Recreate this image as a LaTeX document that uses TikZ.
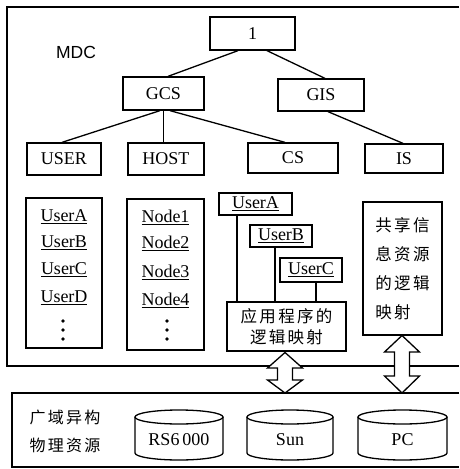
\documentclass[tikz,border=0pt]{standalone}
\usepackage{fontspec}
\setmainfont{Liberation Serif}
\setsansfont{Liberation Sans}
\newfontfamily\cjk[LetterSpace=14]{Noto Sans CJK SC}
\usetikzlibrary{calc}
\newcommand\dblarr[5]{%
  \filldraw[fill=white] (#1,#2) -- (#1+17.5,#3) -- (#1+7.5,#3) -- (#1+7.5,#4) -- (#1+17.5,#4) -- (#1,#5)
    -- (#1-17.5,#4) -- (#1-7.5,#4) -- (#1-7.5,#3) -- (#1-17.5,#3) -- cycle;}
\newcommand\cyl[4]{%
  \draw (#1-#2,417) -- (#1-#2,453) arc[start angle=180,end angle=360,x radius=#2pt,y radius=7pt] -- (#1+#2,417);
  \draw (#1,417) ellipse[x radius=#2pt,y radius=7pt];
  \node[lbl] (#3) at (#1,440) {#4};}
\begin{document}
\begin{tikzpicture}[x=1pt,y=-1pt,line width=1.3pt,
  lbl/.style={font=\fontsize{18}{20}\selectfont,inner sep=0pt},
  box/.style={draw,lbl},
  ch/.style={font=\cjk\fontsize{16.5}{22}\selectfont,inner sep=0pt},
  dotm/.style={fill,circle,inner sep=0pt,minimum size=3.6pt}]
\useasboundingbox (0,0) rectangle (459,469);
% frames
\draw (459,7) -- (7,7) -- (7,366) -- (459,366);
\draw (459,393) -- (12,393) -- (12,467) -- (459,467);
\node[lbl,font=\sffamily\fontsize{17.5}{20}\selectfont] (mdc) at (76,52) {MDC};
% tree
\node[box,minimum width=85pt,minimum height=33pt] (n1) at (252.5,33.5) {1};
\node[box,minimum width=81pt,minimum height=33pt] (gcs) at (163.5,93.5) {GCS};
\node[box,minimum width=86pt,minimum height=32pt] (gis) at (321,95) {GIS};
\node[box,minimum width=74pt,minimum height=32pt] (user) at (64,159) {USER};
\node[box,minimum width=76pt,minimum height=32pt] (host) at (166,159) {HOST};
\node[box,minimum width=90pt,minimum height=30pt] (cs) at (293,158) {CS};
\node[box,minimum width=78pt,minimum height=29pt] (is) at (404,158.5) {IS};
\draw ($(n1.south)+(-14.5,0)$) -- ($(gcs.north)+(4.5,0)$);
\draw ($(n1.south)+(14.5,0)$) -- ($(gis.north)+(4,0)$);
\draw ($(gcs.south)+(-3.5,0)$) -- ($(user.north)+(-2,0)$);
\draw (gcs.south) -- (gcs.south |- host.north);
\draw ($(gcs.south)+(6.5,0)$) -- ($(cs.north)+(-8,0)$);
\draw ($(gis.south)+(7,0)$) -- ($(is.north)+(-1,0)$);
% lists
\node[draw,minimum width=76pt,minimum height=150pt] (ulist) at (64,273) {};
\node[draw,minimum width=77pt,minimum height=151pt] (nlist) at (165.5,274.5) {};
\node[lbl] (u1) at (64,217) {\underline{UserA}};
\node[lbl] (u2) at (64,243) {\underline{UserB}};
\node[lbl] (u3) at (64,270) {\underline{UserC}};
\node[lbl] (u4) at (64,298) {\underline{UserD}};
\node[dotm] (ud1) at (63,321) {};
\node[dotm] (ud2) at (63,330) {};
\node[dotm] (ud3) at (63,339) {};
\node[lbl] (h1) at (165.5,217) {\underline{Node1}};
\node[lbl] (h2) at (165.5,243) {\underline{Node2}};
\node[lbl] (h3) at (165.5,272) {\underline{Node3}};
\node[lbl] (h4) at (165.5,300) {\underline{Node4}};
\node[dotm] (hd1) at (167,321) {};
\node[dotm] (hd2) at (167,330) {};
\node[dotm] (hd3) at (167,339) {};
% CS mapping
\node[box,minimum width=73pt,minimum height=22pt] (ua) at (255.5,204) {\underline{UserA}};
\node[box,minimum width=62pt,minimum height=22pt] (ub) at (281,236) {\underline{UserB}};
\node[box,minimum width=62pt,minimum height=24pt] (uc) at (311,270) {\underline{UserC}};
\node[draw,ch,minimum width=119pt,minimum height=49pt,align=center] (app) at (286.5,326.5) {应用程序的\\[-1pt]逻辑映射};
\coordinate (la) at ($(ua.south)+(-18.5,0)$);
\coordinate (lb) at ($(ub.south)+(-6,0)$);
\coordinate (lc) at ($(uc.south)+(5,0)$);
\draw (la) -- (la |- app.north);
\draw (lb) -- (lb |- app.north);
\draw (lc) -- (lc |- app.north);
% IS mapping
\node[draw,ch,minimum width=79pt,minimum height=133pt,align=left,font=\cjk\fontsize{16.5}{29}\selectfont] (share) at (402.5,268.5) {共享信\\息资源\\的逻辑\\映射};
% arrows
\dblarr{285}{352.5}{368}{380}{393}
\dblarr{402}{335.5}{352}{376}{393}
% physical resources
\node[ch,align=left,font=\cjk\fontsize{16}{28}\selectfont] (phys) at (65,431) {广域异构\\物理资源};
\cyl{179}{44}{rs}{RS6\,000}
\cyl{290}{43}{sun}{Sun}
\cyl{402.5}{44.5}{pc}{PC}
\end{tikzpicture}
\end{document}
